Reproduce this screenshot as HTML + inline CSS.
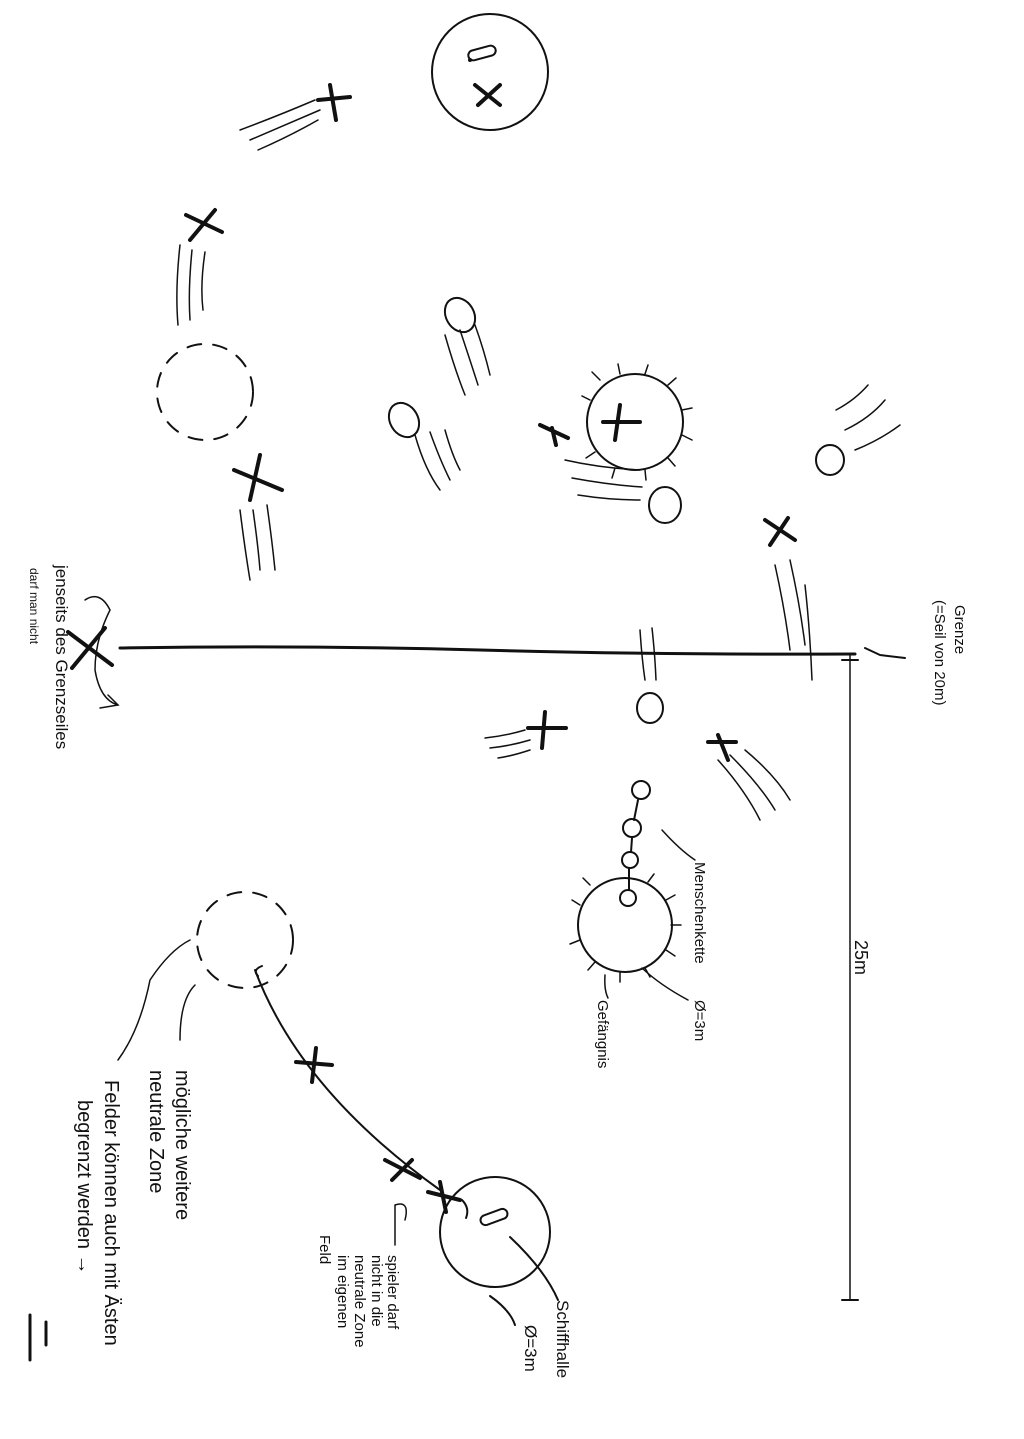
<!DOCTYPE html>
<html><head><meta charset="utf-8"><style>
html,body{margin:0;padding:0;background:#fff}
svg{display:block}
text{font-family:"Liberation Sans",sans-serif;fill:#111}
</style></head><body>
<svg width="1024" height="1439" viewBox="0 0 1024 1439" xmlns="http://www.w3.org/2000/svg">
<g fill="none" stroke="#111" stroke-width="2" stroke-linecap="round">
<!-- boundary line -->
<path d="M120 648 Q300 645 480 650 T855 654" stroke-width="3"/>
<line x1="850" y1="655" x2="850" y2="1300" stroke-width="1.5"/>
<line x1="842" y1="1300" x2="858" y2="1300"/>
<line x1="842" y1="660" x2="858" y2="660"/>
<path d="M865 648 L880 655 M880 655 L905 658"/>
<!-- top circle -->
<circle cx="490" cy="72" r="58"/>
<rect x="468" y="48" width="28" height="10" rx="5" transform="rotate(-15 482 53)"/>
<!-- tick circles -->
<circle cx="635" cy="422" r="48"/>
<g stroke-width="1.5">
<line x1="590" y1="400" x2="582" y2="396"/><line x1="600" y1="380" x2="592" y2="372"/><line x1="620" y1="374" x2="618" y2="364"/><line x1="645" y1="374" x2="648" y2="365"/><line x1="668" y1="385" x2="676" y2="378"/><line x1="682" y1="410" x2="692" y2="408"/><line x1="682" y1="435" x2="692" y2="440"/><line x1="668" y1="458" x2="675" y2="466"/><line x1="645" y1="470" x2="646" y2="480"/><line x1="615" y1="468" x2="612" y2="478"/><line x1="595" y1="452" x2="586" y2="458"/>
</g>
<circle cx="625" cy="925" r="47"/>
<g stroke-width="1.5">
<line x1="580" y1="905" x2="572" y2="900"/><line x1="590" y1="885" x2="583" y2="878"/><line x1="648" y1="882" x2="654" y2="874"/><line x1="666" y1="900" x2="675" y2="895"/><line x1="671" y1="925" x2="681" y2="925"/><line x1="666" y1="950" x2="675" y2="956"/><line x1="645" y1="968" x2="650" y2="977"/><line x1="620" y1="972" x2="620" y2="982"/><line x1="595" y1="962" x2="588" y2="970"/><line x1="580" y1="940" x2="570" y2="944"/>
</g>
<!-- dashed circles -->
<circle cx="205" cy="392" r="48" stroke-dasharray="14 12"/>
<circle cx="245" cy="940" r="48" stroke-dasharray="14 12"/>
<!-- bottom circle -->
<circle cx="495" cy="1232" r="55"/>
<rect x="480" y="1212" width="28" height="10" rx="5" transform="rotate(-20 494 1217)"/>
<path d="M510 1237 Q545 1270 558 1300"/>
<path d="M490 1296 Q510 1310 515 1325"/>
<path d="M462 1200 Q470 1208 466 1218"/>
<!-- path curve -->
<path d="M255 970 Q300 1090 440 1190"/>
<path d="M262 966 Q252 970 258 976"/>
<!-- X marks -->
<g stroke-width="4">
<path d="M470 60 L470 60"/>
<path d="M475 85 L500 105 M478 105 L500 85"/>
<path d="M318 100 L350 97 M330 85 L336 120"/>
<path d="M186 215 L222 232 M215 210 L190 240"/>
<path d="M234 470 L282 490 M260 455 L250 500"/>
<path d="M540 425 L568 438 M552 428 L556 445"/>
<path d="M603 422 L640 422 M620 405 L615 440"/>
<path d="M765 520 L795 540 M788 518 L770 545"/>
<path d="M68 632 L112 665 M105 628 L72 668"/>
<path d="M528 728 L566 728 M545 712 L542 748"/>
<path d="M708 742 L736 742 M718 735 L728 760"/>
<path d="M296 1062 L332 1065 M316 1048 L312 1082"/>
<path d="M385 1160 L420 1178 M412 1160 L392 1180"/>
<path d="M428 1192 L460 1200 M440 1182 L446 1212"/>
</g>
<!-- ovals -->
<ellipse cx="460" cy="315" rx="14" ry="18" transform="rotate(-30 460 315)"/>
<ellipse cx="404" cy="420" rx="14" ry="18" transform="rotate(-30 404 420)"/>
<ellipse cx="665" cy="505" rx="16" ry="18"/>
<ellipse cx="830" cy="460" rx="14" ry="15"/>
<ellipse cx="650" cy="708" rx="13" ry="15"/>
<circle cx="641" cy="790" r="9"/><circle cx="632" cy="828" r="9"/><circle cx="630" cy="860" r="8"/><circle cx="628" cy="898" r="8"/>
<line x1="638" y1="800" x2="634" y2="820"/><line x1="632" y1="838" x2="631" y2="852"/><line x1="629" y1="868" x2="629" y2="890"/>
<!-- motion strokes -->
<g stroke-width="1.5">
<path d="M240 130 Q280 115 315 100 M250 140 Q285 125 320 110 M258 150 Q290 136 318 120"/>
<path d="M180 245 Q175 290 178 325 M192 250 Q188 290 190 320 M205 252 Q200 285 203 310"/>
<path d="M240 510 Q245 550 250 580 M253 510 Q258 545 260 570 M267 505 Q272 540 275 570"/>
<path d="M445 335 Q455 370 465 395 M460 330 Q470 360 478 385 M475 325 Q484 350 490 375"/>
<path d="M415 435 Q425 470 440 490 M430 432 Q440 460 450 480 M445 430 Q452 455 460 470"/>
<path d="M565 460 Q600 468 640 470 M572 478 Q610 485 642 487 M578 495 Q610 500 640 500"/>
<path d="M836 410 Q855 400 868 385 M845 430 Q870 418 885 400 M855 450 Q880 440 900 425"/>
<path d="M775 565 Q785 610 790 650 M790 560 Q800 605 805 645 M805 585 Q810 630 812 680"/>
<path d="M640 630 Q642 660 645 680 M652 628 Q655 655 656 680"/>
<path d="M485 738 Q505 736 525 730 M490 748 Q510 746 530 740 M498 758 Q512 756 530 750"/>
<path d="M718 760 Q745 790 760 820 M730 755 Q760 785 775 810 M745 750 Q775 775 790 800"/>
<path d="M85 600 Q100 590 110 610 Q95 640 95 670 Q100 700 118 705"/>
<path d="M108 695 L118 705 L100 708"/>
</g>
<!-- leaders -->
<g stroke-width="1.5">
<path d="M662 830 Q680 850 695 860"/>
<path d="M642 968 Q660 985 688 1000"/>
<path d="M605 975 Q604 990 608 998"/>
<path d="M190 940 Q170 950 150 980 Q140 1030 118 1060"/>
<path d="M195 985 Q180 1000 180 1040"/>
<path d="M395 1205 L395 1245 M395 1205 Q410 1200 405 1220"/>
</g>
<!-- left bottom mark -->
<path d="M30 1315 L30 1360 M46 1322 L46 1345" stroke-width="3"/>
</g>
<g font-size="15">
<text transform="translate(955,605) rotate(90)">Grenze</text>
<text transform="translate(935,600) rotate(90)">(=Seil von 20m)</text>
<text transform="translate(855,940) rotate(90)" font-size="18">25m</text>
<text transform="translate(695,862) rotate(90)">Menschenkette</text>
<text transform="translate(695,1000) rotate(90)">Ø=3m</text>
<text transform="translate(598,1000) rotate(90)">Gefängnis</text>
<text transform="translate(557,1300) rotate(90)" font-size="17">Schiffhalle</text>
<text transform="translate(525,1325) rotate(90)" font-size="17">Ø=3m</text>
<text transform="translate(388,1255) rotate(90)">spieler darf</text>
<text transform="translate(372,1255) rotate(90)">nicht in die</text>
<text transform="translate(355,1255) rotate(90)">neutrale Zone</text>
<text transform="translate(338,1255) rotate(90)">im eigenen</text>
<text transform="translate(320,1235) rotate(90)">Feld</text>
<text transform="translate(176,1070) rotate(90)" font-size="20">mögliche weitere</text>
<text transform="translate(150,1070) rotate(90)" font-size="20">neutrale Zone</text>
<text transform="translate(105,1080) rotate(90)" font-size="20">Felder können auch mit Ästen</text>
<text transform="translate(78,1100) rotate(90)" font-size="20">begrenzt werden →</text>
<text transform="translate(56,565) rotate(90)" font-size="17">jenseits des Grenzseiles</text>
<text transform="translate(30,568) rotate(90)" font-size="12" fill="#555">darf man nicht</text>
</g>
</svg>
</body></html>
